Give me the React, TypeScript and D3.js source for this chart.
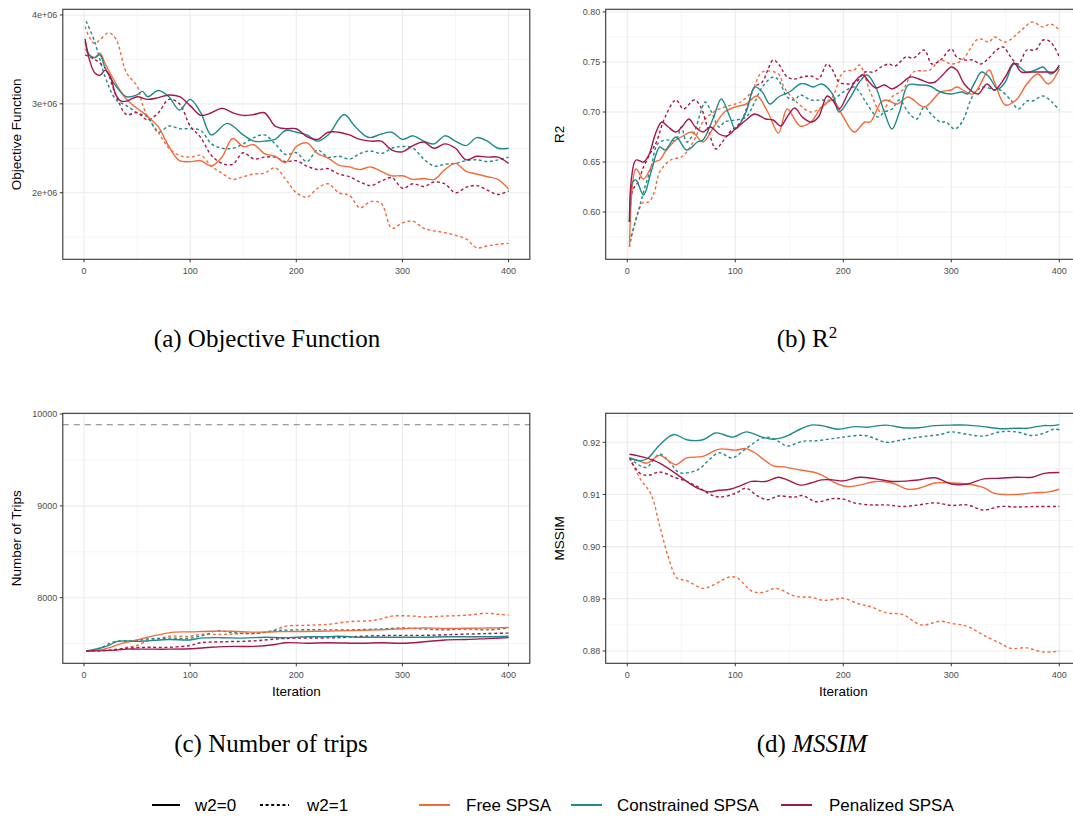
import React from "react";
import * as d3 from "d3";

type Pt = [number, number];

// ---------- data (iteration, value) ----------
// (a) Objective function, millions
const objFree0: Pt[] = [[1,3.62],[5,3.55],[10,3.52],[15,3.57],[20,3.45],[30,3.23],[40,3.05],[50,2.95],[60,2.86],[70,2.74],[80,2.52],[90,2.36],[100,2.35],[110,2.36],[120,2.30],[130,2.40],[140,2.61],[150,2.52],[160,2.54],[170,2.44],[180,2.41],[190,2.34],[200,2.52],[210,2.56],[220,2.44],[230,2.39],[240,2.31],[250,2.29],[260,2.26],[270,2.29],[280,2.24],[290,2.19],[300,2.19],[310,2.15],[320,2.16],[330,2.15],[340,2.26],[350,2.33],[360,2.24],[370,2.21],[380,2.18],[390,2.15],[400,2.04]];
const objFree1: Pt[] = [[1,3.87],[5,3.75],[10,3.68],[15,3.72],[23,3.80],[30,3.73],[40,3.35],[50,3.2],[55,3.0],[60,2.85],[70,2.68],[80,2.5],[90,2.42],[100,2.4],[110,2.42],[120,2.3],[130,2.22],[140,2.15],[150,2.18],[160,2.21],[170,2.22],[180,2.28],[190,2.15],[200,2.0],[210,1.95],[220,2.05],[230,2.1],[240,2.0],[250,1.97],[260,1.83],[270,1.9],[280,1.88],[290,1.6],[300,1.66],[310,1.68],[320,1.6],[330,1.57],[340,1.55],[350,1.52],[360,1.48],[370,1.38],[380,1.40],[390,1.42],[400,1.43]];
const objCon0: Pt[] = [[1,3.7],[5,3.55],[10,3.52],[15,3.55],[20,3.4],[30,3.2],[40,3.08],[50,3.1],[55,3.14],[60,3.08],[70,3.15],[80,3.08],[90,2.93],[100,3.05],[110,2.9],[120,2.65],[135,2.78],[150,2.65],[160,2.58],[170,2.58],[180,2.6],[190,2.7],[200,2.68],[210,2.65],[220,2.58],[230,2.65],[245,2.88],[255,2.75],[265,2.64],[270,2.62],[280,2.66],[290,2.68],[300,2.6],[310,2.64],[320,2.58],[330,2.55],[340,2.64],[350,2.58],[360,2.53],[370,2.62],[380,2.58],[390,2.5],[400,2.5]];
const objCon1: Pt[] = [[2,3.93],[10,3.7],[20,3.3],[30,3.05],[40,2.98],[50,2.9],[60,2.85],[70,2.68],[80,2.75],[90,2.72],[100,2.72],[110,2.7],[120,2.55],[130,2.5],[140,2.5],[150,2.55],[160,2.62],[170,2.65],[180,2.55],[190,2.43],[200,2.45],[210,2.35],[220,2.48],[230,2.4],[240,2.41],[250,2.38],[260,2.44],[270,2.47],[280,2.44],[290,2.5],[300,2.52],[310,2.5],[320,2.38],[330,2.3],[340,2.32],[350,2.33],[360,2.36],[370,2.37],[380,2.35],[390,2.37],[400,2.4]];
const objPen0: Pt[] = [[1,3.73],[5,3.5],[10,3.35],[15,3.32],[20,3.38],[25,3.3],[30,3.1],[35,3.03],[40,3.03],[50,3.08],[60,3.05],[70,3.07],[80,3.1],[90,3.08],[100,2.98],[110,2.87],[120,2.9],[130,2.95],[140,2.9],[150,2.87],[160,2.88],[170,2.9],[180,2.75],[190,2.72],[200,2.72],[210,2.63],[220,2.6],[230,2.68],[240,2.68],[250,2.65],[260,2.6],[270,2.58],[280,2.58],[290,2.48],[300,2.46],[310,2.53],[320,2.57],[330,2.5],[340,2.55],[350,2.5],[360,2.37],[370,2.41],[380,2.4],[390,2.4],[400,2.33]];
const objPen1: Pt[] = [[1,3.55],[10,3.5],[20,3.4],[30,3.1],[40,2.88],[50,2.9],[60,2.82],[70,2.9],[80,3.05],[90,3.0],[100,2.75],[110,2.62],[120,2.42],[130,2.33],[140,2.32],[150,2.45],[160,2.38],[170,2.4],[180,2.4],[190,2.35],[200,2.36],[210,2.3],[220,2.26],[230,2.27],[240,2.21],[250,2.18],[260,2.12],[270,2.08],[280,2.13],[290,2.17],[300,2.05],[310,2.1],[320,2.07],[330,2.12],[340,2.1],[350,2.0],[360,2.06],[370,2.08],[380,2.03],[390,1.98],[400,2.02]];

// (b) R2
const r2Free0: Pt[] = [[2,0.565],[8,0.643],[15,0.633],[25,0.65],[30,0.652],[35,0.66],[45,0.672],[50,0.675],[60,0.68],[70,0.67],[80,0.685],[90,0.70],[100,0.705],[110,0.708],[120,0.716],[130,0.70],[140,0.679],[148,0.703],[160,0.686],[170,0.69],[180,0.705],[190,0.712],[200,0.695],[210,0.68],[220,0.69],[225,0.69],[235,0.71],[240,0.712],[250,0.708],[260,0.715],[275,0.705],[290,0.72],[300,0.722],[305,0.725],[320,0.718],[335,0.742],[340,0.73],[350,0.707],[360,0.712],[370,0.728],[380,0.738],[390,0.728],[400,0.743]];
const r2Free1: Pt[] = [[2,0.565],[10,0.6],[15,0.61],[20,0.61],[25,0.62],[30,0.64],[40,0.652],[50,0.655],[55,0.66],[62,0.672],[70,0.69],[80,0.70],[90,0.705],[100,0.708],[105,0.71],[115,0.72],[125,0.74],[140,0.738],[145,0.725],[155,0.712],[170,0.70],[180,0.705],[190,0.715],[200,0.74],[210,0.742],[215,0.747],[225,0.72],[235,0.70],[245,0.715],[255,0.722],[265,0.74],[280,0.742],[290,0.752],[300,0.748],[310,0.752],[325,0.773],[335,0.77],[340,0.775],[350,0.77],[365,0.782],[375,0.79],[385,0.785],[392,0.788],[400,0.782]];
const r2Con0: Pt[] = [[2,0.59],[5,0.63],[8,0.632],[15,0.617],[22,0.64],[30,0.665],[35,0.662],[45,0.675],[55,0.662],[65,0.67],[70,0.672],[80,0.695],[87,0.713],[95,0.695],[100,0.683],[110,0.70],[118,0.725],[125,0.72],[132,0.708],[140,0.715],[150,0.72],[160,0.728],[165,0.728],[172,0.725],[180,0.728],[190,0.718],[196,0.70],[205,0.712],[215,0.73],[222,0.737],[230,0.725],[238,0.70],[245,0.683],[252,0.70],[260,0.727],[270,0.727],[280,0.726],[290,0.72],[300,0.718],[310,0.72],[315,0.718],[322,0.73],[328,0.74],[335,0.735],[343,0.723],[350,0.73],[358,0.748],[370,0.74],[380,0.743],[385,0.745],[392,0.738],[400,0.745]];
const r2Con1: Pt[] = [[2,0.57],[10,0.60],[15,0.62],[22,0.645],[28,0.668],[35,0.672],[45,0.672],[50,0.685],[55,0.67],[62,0.68],[68,0.70],[72,0.71],[78,0.70],[85,0.685],[90,0.69],[100,0.692],[110,0.695],[118,0.71],[125,0.725],[135,0.735],[140,0.732],[148,0.715],[155,0.712],[160,0.717],[170,0.712],[180,0.712],[190,0.712],[200,0.72],[210,0.725],[215,0.72],[222,0.708],[232,0.695],[238,0.70],[245,0.703],[252,0.712],[260,0.70],[268,0.693],[275,0.705],[282,0.697],[290,0.69],[295,0.69],[303,0.683],[310,0.69],[318,0.712],[322,0.72],[330,0.725],[340,0.722],[345,0.722],[355,0.712],[362,0.703],[370,0.711],[375,0.711],[385,0.716],[393,0.71],[400,0.702]];
const r2Pen0: Pt[] = [[2,0.59],[4,0.635],[8,0.652],[15,0.65],[20,0.657],[26,0.678],[32,0.69],[38,0.685],[45,0.68],[52,0.687],[57,0.693],[63,0.685],[70,0.68],[77,0.685],[85,0.678],[92,0.676],[100,0.683],[110,0.692],[118,0.698],[128,0.693],[135,0.692],[142,0.686],[148,0.695],[155,0.704],[162,0.695],[170,0.69],[177,0.695],[185,0.716],[190,0.712],[196,0.703],[205,0.72],[212,0.732],[218,0.737],[224,0.73],[230,0.724],[238,0.727],[245,0.723],[252,0.727],[262,0.735],[270,0.733],[280,0.729],[285,0.73],[292,0.737],[300,0.745],[305,0.742],[312,0.728],[320,0.72],[325,0.718],[333,0.728],[340,0.722],[350,0.735],[358,0.749],[365,0.74],[375,0.74],[390,0.74],[395,0.74],[400,0.747]];
const r2Pen1: Pt[] = [[2,0.59],[5,0.622],[10,0.63],[15,0.645],[22,0.66],[27,0.67],[35,0.695],[45,0.712],[52,0.703],[62,0.712],[68,0.705],[75,0.682],[82,0.663],[88,0.67],[95,0.68],[105,0.69],[112,0.708],[118,0.725],[125,0.73],[130,0.742],[135,0.752],[140,0.748],[148,0.735],[155,0.733],[162,0.735],[170,0.736],[177,0.733],[185,0.748],[190,0.742],[196,0.73],[205,0.728],[212,0.73],[220,0.74],[228,0.74],[235,0.745],[242,0.748],[248,0.746],[258,0.755],[265,0.754],[275,0.762],[282,0.748],[290,0.752],[300,0.763],[305,0.755],[312,0.752],[320,0.752],[327,0.748],[333,0.752],[342,0.762],[348,0.765],[355,0.755],[362,0.748],[370,0.762],[378,0.762],[385,0.772],[392,0.77],[400,0.755]];

// (c) Number of trips
const tripFree0: Pt[] = [[2,7420],[15,7430],[25,7460],[35,7500],[50,7540],[60,7570],[70,7595],[85,7625],[100,7628],[120,7635],[140,7635],[160,7625],[180,7630],[200,7632],[220,7635],[250,7642],[280,7652],[300,7662],[320,7672],[340,7665],[360,7668],[380,7670],[400,7675]];
const tripFree1: Pt[] = [[2,7420],[20,7430],[30,7430],[40,7460],[50,7480],[60,7530],[70,7550],[80,7580],[100,7580],[110,7600],[130,7600],[150,7610],[170,7620],[180,7650],[190,7690],[210,7700],[230,7710],[250,7740],[270,7750],[280,7770],[290,7800],[310,7800],[320,7790],[340,7800],[360,7810],[380,7830],[390,7820],[400,7810]];
const tripCon0: Pt[] = [[2,7420],[15,7450],[25,7490],[30,7520],[40,7530],[50,7525],[60,7530],[80,7545],[100,7540],[110,7560],[130,7565],[150,7560],[170,7570],[190,7565],[210,7575],[230,7575],[240,7580],[260,7570],[280,7570],[300,7570],[320,7570],[340,7575],[360,7575],[380,7575],[400,7580]];
const tripCon1: Pt[] = [[2,7420],[15,7450],[28,7520],[45,7530],[60,7550],[80,7560],[100,7560],[115,7600],[125,7640],[140,7620],[160,7610],[180,7640],[200,7650],[250,7650],[280,7660],[300,7670],[320,7660],[340,7650],[360,7660],[380,7650],[400,7670]];
const tripPen0: Pt[] = [[2,7420],[30,7430],[40,7440],[60,7440],[80,7440],[100,7445],[120,7460],[140,7470],[160,7470],[180,7490],[190,7510],[210,7505],[230,7510],[260,7505],[280,7510],[300,7505],[320,7520],[340,7540],[360,7545],[380,7555],[400,7565]];
const tripPen1: Pt[] = [[2,7420],[20,7425],[40,7450],[60,7460],[80,7460],[100,7480],[110,7510],[130,7520],[160,7530],[180,7550],[200,7560],[240,7565],[260,7580],[290,7590],[320,7590],[350,7600],[380,7610],[400,7615]];
const tripLimit = 9884;

// (d) MSSIM
const msFree0: Pt[] = [[2,0.917],[10,0.9165],[18,0.916],[30,0.9175],[38,0.9165],[45,0.9157],[55,0.917],[70,0.9173],[85,0.9187],[100,0.9185],[110,0.9188],[118,0.918],[135,0.9155],[145,0.9153],[160,0.9147],[172,0.9143],[180,0.9137],[195,0.912],[205,0.9115],[215,0.9118],[230,0.9125],[245,0.9122],[260,0.911],[270,0.9112],[285,0.9122],[300,0.9122],[315,0.912],[330,0.9113],[340,0.9102],[360,0.910],[375,0.9103],[390,0.9105],[400,0.911]];
const msFree1: Pt[] = [[2,0.917],[12,0.913],[22,0.910],[30,0.904],[38,0.898],[46,0.894],[55,0.8935],[70,0.892],[78,0.8925],[95,0.8942],[102,0.894],[115,0.8915],[125,0.8912],[138,0.892],[155,0.8905],[170,0.8903],[182,0.8897],[195,0.89],[200,0.8901],[215,0.889],[225,0.8885],[240,0.8873],[255,0.887],[272,0.885],[290,0.8857],[300,0.8853],[315,0.8847],[330,0.883],[345,0.8815],[355,0.8805],[370,0.8806],[385,0.8798],[400,0.880]];
const msCon0: Pt[] = [[2,0.917],[10,0.9165],[18,0.9168],[30,0.9195],[43,0.9215],[55,0.9205],[70,0.9205],[82,0.9218],[98,0.921],[110,0.922],[125,0.921],[135,0.9206],[145,0.921],[160,0.9225],[170,0.9233],[180,0.9232],[195,0.9225],[210,0.923],[222,0.9229],[240,0.9233],[255,0.9228],[270,0.9228],[285,0.9232],[300,0.9233],[315,0.9233],[330,0.923],[345,0.9226],[360,0.9227],[370,0.9227],[385,0.9232],[393,0.9232],[400,0.9234]];
const msCon1: Pt[] = [[2,0.917],[12,0.9155],[18,0.9152],[30,0.9177],[40,0.916],[48,0.9142],[65,0.9147],[75,0.9165],[85,0.918],[97,0.917],[108,0.9185],[122,0.9205],[130,0.921],[140,0.9202],[148,0.9193],[162,0.9202],[175,0.9203],[190,0.9207],[200,0.921],[220,0.9213],[240,0.920],[255,0.9205],[270,0.921],[290,0.9215],[300,0.922],[315,0.9215],[330,0.9212],[345,0.922],[360,0.922],[375,0.9213],[385,0.9217],[395,0.9225],[400,0.9224]];
const msPen0: Pt[] = [[2,0.9177],[12,0.9173],[25,0.9165],[30,0.916],[45,0.914],[55,0.9125],[65,0.9112],[75,0.9105],[85,0.9108],[95,0.911],[105,0.9117],[115,0.9125],[128,0.9125],[140,0.9133],[148,0.9128],[160,0.9118],[170,0.9122],[180,0.9128],[190,0.9128],[200,0.9126],[215,0.9133],[230,0.913],[245,0.9125],[260,0.9126],[270,0.9128],[285,0.9132],[300,0.912],[315,0.912],[330,0.913],[345,0.9131],[360,0.9133],[375,0.9133],[385,0.914],[400,0.9142]];
const msPen1: Pt[] = [[2,0.917],[12,0.914],[20,0.9137],[30,0.9143],[45,0.9132],[55,0.9125],[65,0.9115],[75,0.9102],[85,0.9095],[100,0.9102],[110,0.9112],[120,0.9098],[130,0.909],[140,0.9097],[155,0.9095],[162,0.9098],[175,0.9086],[190,0.9092],[200,0.9091],[210,0.9084],[225,0.908],[240,0.908],[255,0.9077],[270,0.908],[285,0.9084],[300,0.9079],[315,0.908],[330,0.907],[345,0.9077],[360,0.9076],[380,0.9077],[400,0.9077]];

// ---------- labels ----------
const methods = ["Free SPSA", "Constrained SPSA", "Penalized SPSA"];
const weights = ["w2=0", "w2=1"];
const xTicks = [0, 100, 200, 300, 400];
const xMinor = [50, 150, 250, 350];
const objTicks = [2e6, 3e6, 4e6];
const objTickLabels = ["2e+06", "3e+06", "4e+06"];
const r2Ticks = [0.6, 0.65, 0.7, 0.75, 0.8];
const tripTicks = [8000, 9000, 10000];
const msTicks = [0.88, 0.89, 0.9, 0.91, 0.92];

const COLORS: Record<string, string> = {
  "Free SPSA": "#F26B3A",
  "Constrained SPSA": "#1E8A8C",
  "Penalized SPSA": "#A5164D",
};
const DOT = "3,2.6";
const SANS = "'Liberation Sans', Arial, sans-serif";
const SERIF = "'Liberation Serif', 'Times New Roman', serif";

interface Series { method: string; w: number; pts: Pt[] }
interface PanelProps {
  id: string;
  x0: number; x1: number; y0: number; y1: number;
  yDomain: [number, number];
  yTicks: number[];
  yLabels: string[];
  yMinor: number[];
  yTitle: string;
  xTitle?: string;
  series: Series[];
  hline?: number;
}

function mk(f: Pt[], f1: Pt[], c: Pt[], c1: Pt[], p: Pt[], p1: Pt[], scale = 1): Series[] {
  const s = (pts: Pt[]) => pts.map(([a, b]) => [a, b * scale] as Pt);
  return [
    { method: methods[0], w: 1, pts: s(f1) },
    { method: methods[1], w: 1, pts: s(c1) },
    { method: methods[2], w: 1, pts: s(p1) },
    { method: methods[0], w: 0, pts: s(f) },
    { method: methods[1], w: 0, pts: s(c) },
    { method: methods[2], w: 0, pts: s(p) },
  ];
}

function Panel(props: PanelProps) {
  const { id, x0, x1, y0, y1, yDomain, yTicks, yLabels, yMinor, yTitle, xTitle, series, hline } = props;
  const x = d3.scaleLinear().domain([-20, 420]).range([x0, x1]);
  const y = d3.scaleLinear().domain(yDomain).range([y1, y0]);
  const line = d3.line<Pt>().x((d) => x(d[0])).y((d) => y(d[1])).curve(d3.curveCatmullRom.alpha(0.5));
  const yMid = (y0 + y1) / 2;
  return (
    <g>
      <defs>
        <clipPath id={`clip-${id}`}>
          <rect x={x0} y={y0} width={x1 - x0} height={y1 - y0} />
        </clipPath>
      </defs>
      <rect x={x0} y={y0} width={x1 - x0} height={y1 - y0} fill="#fff" />
      <g clipPath={`url(#clip-${id})`}>
        {xMinor.map((t) => (
          <line key={"xm" + t} x1={x(t)} x2={x(t)} y1={y0} y2={y1} stroke="#ededed" strokeWidth={0.6} />
        ))}
        {yMinor.map((t) => (
          <line key={"ym" + t} x1={x0} x2={x1} y1={y(t)} y2={y(t)} stroke="#ededed" strokeWidth={0.6} />
        ))}
        {xTicks.map((t) => (
          <line key={"xg" + t} x1={x(t)} x2={x(t)} y1={y0} y2={y1} stroke="#ebebeb" strokeWidth={1.1} />
        ))}
        {yTicks.map((t) => (
          <line key={"yg" + t} x1={x0} x2={x1} y1={y(t)} y2={y(t)} stroke="#ebebeb" strokeWidth={1.1} />
        ))}
        {hline !== undefined && (
          <line x1={x0} x2={x1} y1={y(hline)} y2={y(hline)} stroke="#7f7f7f" strokeWidth={1.1} strokeDasharray="6,5" />
        )}
        {series.map((s, i) => (
          <path
            key={i}
            d={line(s.pts) || ""}
            fill="none"
            stroke={COLORS[s.method]}
            strokeWidth={1.4}
            strokeDasharray={s.w === 1 ? DOT : undefined}
          />
        ))}
      </g>
      <rect x={x0} y={y0} width={x1 - x0} height={y1 - y0} fill="none" stroke="#333" strokeWidth={1.1} />
      {xTicks.map((t) => (
        <g key={"xt" + t}>
          <line x1={x(t)} x2={x(t)} y1={y1} y2={y1 + 3} stroke="#333" strokeWidth={1} />
          <text x={x(t)} y={y1 + 14.5} textAnchor="middle" fontFamily={SANS} fontSize={9} fill="#4d4d4d">{t}</text>
        </g>
      ))}
      {yTicks.map((t, i) => (
        <g key={"yt" + t}>
          <line x1={x0 - 3} x2={x0} y1={y(t)} y2={y(t)} stroke="#333" strokeWidth={1} />
          <text x={x0 - 5.5} y={y(t) + 3.2} textAnchor="end" fontFamily={SANS} fontSize={9} fill="#4d4d4d">{yLabels[i]}</text>
        </g>
      ))}
      <text
        transform={`translate(${x0 - 41.5},${yMid}) rotate(-90)`}
        textAnchor="middle"
        fontFamily={SANS}
        fontSize={13.5}
        fill="#000"
      >
        {yTitle}
      </text>
      {xTitle && (
        <text x={(x0 + x1) / 2} y={y1 + 33} textAnchor="middle" fontFamily={SANS} fontSize={13.5} fill="#000">{xTitle}</text>
      )}
    </g>
  );
}

function midpoints(ticks: number[], lo: number, hi: number): number[] {
  const step = ticks[1] - ticks[0];
  const out: number[] = [];
  for (let v = ticks[0] - step / 2; v <= hi; v += step) if (v >= lo) out.push(v);
  return out;
}

export default function App() {
  const L = { x0: 62.8, x1: 529.8 };
  const R = { x0: 605.7, x1: 1080.9 };
  const T = { y0: 9.3, y1: 259.3 };
  const B = { y0: 413.3, y1: 663.3 };
  const objDom: [number, number] = [1.2504e6, 4.064e6];
  const r2Dom: [number, number] = [0.5527, 0.8027];
  const tripDom: [number, number] = [7286, 10008];
  const msDom: [number, number] = [0.87764, 0.92556];

  const legendY = 805;
  const legendItems = [
    { x1: 419, x2: 450, label: methods[0], tx: 466 },
    { x1: 571, x2: 602, label: methods[1], tx: 617 },
    { x1: 781, x2: 812, label: methods[2], tx: 829 },
  ];

  return (
    <div style={{ position: "fixed", left: 0, top: 0 }}>
      <svg width={1073} height={819} style={{ display: "block", background: "#fff" }}>
        <rect width={1073} height={819} fill="#fff" />
        <Panel id="a" {...L} {...T} yDomain={objDom} yTicks={objTicks} yLabels={objTickLabels}
          yMinor={midpoints(objTicks, objDom[0], objDom[1])} yTitle="Objective Function"
          series={mk(objFree0, objFree1, objCon0, objCon1, objPen0, objPen1, 1e6)} />
        <Panel id="b" {...R} {...T} yDomain={r2Dom} yTicks={r2Ticks} yLabels={r2Ticks.map((v) => v.toFixed(2))}
          yMinor={midpoints(r2Ticks, r2Dom[0], r2Dom[1])} yTitle="R2"
          series={mk(r2Free0, r2Free1, r2Con0, r2Con1, r2Pen0, r2Pen1)} />
        <Panel id="c" {...L} {...B} yDomain={tripDom} yTicks={tripTicks} yLabels={tripTicks.map(String)}
          yMinor={midpoints(tripTicks, tripDom[0], tripDom[1])} yTitle="Number of Trips" xTitle="Iteration"
          series={mk(tripFree0, tripFree1, tripCon0, tripCon1, tripPen0, tripPen1)} hline={tripLimit} />
        <Panel id="d" {...R} {...B} yDomain={msDom} yTicks={msTicks} yLabels={msTicks.map((v) => v.toFixed(2))}
          yMinor={midpoints(msTicks, msDom[0], msDom[1])} yTitle="MSSIM" xTitle="Iteration"
          series={mk(msFree0, msFree1, msCon0, msCon1, msPen0, msPen1)} />

        {/* captions */}
        <text x={267} y={347} textAnchor="middle" fontFamily={SERIF} fontSize={25} fill="#000">(a) Objective Function</text>
        <text x={807} y={347} textAnchor="middle" fontFamily={SERIF} fontSize={25} fill="#000">
          (b) R<tspan dy={-9} fontSize={17}>2</tspan>
        </text>
        <text x={271} y={752} textAnchor="middle" fontFamily={SERIF} fontSize={25} fill="#000">(c) Number of trips</text>
        <text x={812} y={752} textAnchor="middle" fontFamily={SERIF} fontSize={25} fill="#000">
          (d) <tspan fontStyle="italic">MSSIM</tspan>
        </text>

        {/* legend */}
        <line x1={152} x2={180} y1={legendY} y2={legendY} stroke="#000" strokeWidth={2} />
        <text x={195} y={legendY + 6} fontFamily={SANS} fontSize={17} fill="#000">{weights[0]}</text>
        <line x1={260} x2={289} y1={legendY} y2={legendY} stroke="#000" strokeWidth={2} strokeDasharray="3,2.6" />
        <text x={307} y={legendY + 6} fontFamily={SANS} fontSize={17} fill="#000">{weights[1]}</text>
        {legendItems.map((it) => (
          <g key={it.label}>
            <line x1={it.x1} x2={it.x2} y1={legendY} y2={legendY} stroke={COLORS[it.label]} strokeWidth={2} />
            <text x={it.tx} y={legendY + 6} fontFamily={SANS} fontSize={17} fill="#000">{it.label}</text>
          </g>
        ))}
      </svg>
    </div>
  );
}
